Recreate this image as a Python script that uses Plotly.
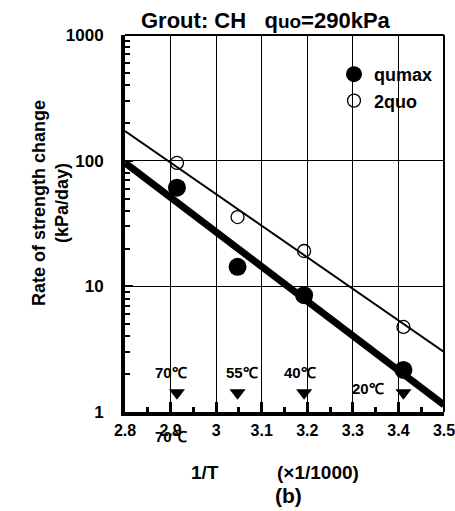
import math
import plotly.graph_objects as go

# Data
inv_T = [2.914, 3.047, 3.193, 3.411]          # 1/T (x1/1000) for 70,55,40,20 C
qumax = [61, 14.3, 8.5, 2.16]
two_quo = [96, 35.6, 19.1, 4.75]
fit_x = [2.8, 3.5]
fit_qumax = [96, 1.14]
fit_2quo = [172, 3.0]
temp_labels = ["70℃", "55℃", "40℃", "20℃"]
tri_level = [1.42, 1.42, 1.42, 1.42]
label_level = [2.08, 2.08, 2.08, 1.53]
label_dx = [-0.013, 0.009, -0.01, -0.077]
xticks = [2.8, 2.9, 3.0, 3.1, 3.2, 3.3, 3.4, 3.5]
xtick_text = ["2.8", "2.9", "3", "3.1", "3.2", "3.3", "3.4", "3.5"]
yticks = [1, 10, 100, 1000]
yminor = [m * d for d in (1, 10, 100) for m in range(2, 10)]

FONT = "Liberation Sans"
L, R, T, B = 125, 11, 35, 99
PW = 455 - L - R
PH = 511 - T - B


def px(xp):
    return (xp - L) / PW


def py(yp):
    return 1 - (yp - T) / PH


fig = go.Figure()
fig.add_trace(go.Scatter(x=fit_x, y=fit_2quo, mode="lines",
                         line=dict(color="black", width=2), showlegend=False))
fig.add_trace(go.Scatter(x=fit_x, y=fit_qumax, mode="lines",
                         line=dict(color="black", width=7), showlegend=False))
fig.add_trace(go.Scatter(x=inv_T, y=qumax, mode="markers", name="<b>qumax</b>",
                         marker=dict(symbol="circle", size=18, color="black")))
fig.add_trace(go.Scatter(x=inv_T, y=two_quo, mode="markers", name="<b>2quo</b>",
                         marker=dict(symbol="circle-open", size=13, color="black",
                                     line=dict(width=1.3))))
fig.add_trace(go.Scatter(x=inv_T, y=tri_level, mode="markers", showlegend=False,
                         marker=dict(symbol="triangle-down", size=14, color="black")))

for xv, lab, yl, dx in zip(inv_T, temp_labels, label_level, label_dx):
    fig.add_annotation(x=xv + dx, y=math.log10(yl), text="<b>" + lab + "</b>",
                       showarrow=False, xanchor="center", yanchor="middle",
                       font=dict(family=FONT, size=15, color="black"))

# extra label under the axis (as in the original)
fig.add_annotation(x=2.9, y=py(436), yref="paper", text="<b>70℃</b>", showarrow=False,
                   xanchor="center", yanchor="middle",
                   font=dict(family=FONT, size=15, color="black"))

fig.add_annotation(x=px(266), y=py(20), xref="paper", yref="paper",
                   xanchor="center", yanchor="middle",
                   text="<b>Grout: CH   q<span style='font-size:19px'>uo</span>=290kPa</b>",
                   showarrow=False, font=dict(family=FONT, size=22, color="black"))
fig.add_annotation(x=px(50), y=py(203), xref="paper", yref="paper", textangle=-90,
                   xanchor="center", yanchor="middle",
                   text="<b>Rate of strength change<br>(kPa/day)</b>", showarrow=False,
                   font=dict(family=FONT, size=18, color="black"))
fig.add_annotation(x=px(205), y=py(472), xref="paper", yref="paper",
                   xanchor="center", yanchor="middle",
                   text="<b>1/T</b>", showarrow=False,
                   font=dict(family=FONT, size=19, color="black"))
fig.add_annotation(x=px(318), y=py(472), xref="paper", yref="paper",
                   xanchor="center", yanchor="middle",
                   text="<b>(×1/1000)</b>", showarrow=False,
                   font=dict(family=FONT, size=19, color="black"))
fig.add_annotation(x=px(288), y=py(495), xref="paper", yref="paper",
                   xanchor="center", yanchor="middle",
                   text="<b>(b)</b>", showarrow=False,
                   font=dict(family=FONT, size=21, color="black"))

# thin top and right borders
fig.add_shape(type="line", xref="paper", yref="paper", x0=0, x1=1, y0=1, y1=1,
              line=dict(color="black", width=2))
fig.add_shape(type="line", xref="paper", yref="paper", x0=1, x1=1, y0=0, y1=1,
              line=dict(color="black", width=2))

fig.update_layout(
    width=455, height=511,
    margin=dict(l=L, r=R, t=T, b=B, autoexpand=False),
    paper_bgcolor="white", plot_bgcolor="white",
    font=dict(family=FONT, color="black"),
    legend=dict(x=px(334), y=py(56), xanchor="left", yanchor="top",
                bgcolor="rgba(0,0,0,0)", font=dict(family=FONT, size=18, color="black"),
                itemwidth=30, tracegroupgap=0),
    xaxis=dict(range=[2.8, 3.5], tickvals=xticks,
               ticktext=["<b>%s</b>" % t for t in xtick_text],
               tickfont=dict(family=FONT, size=16, color="black"),
               ticks="inside", ticklen=10, tickwidth=2.5, tickcolor="black",
               minor=dict(dtick=0.05, ticks="inside", ticklen=5, tickwidth=2.5,
                          tickcolor="black", showgrid=False),
               showgrid=True, gridcolor="black", gridwidth=1,
               showline=True, linecolor="black", linewidth=4, mirror=False,
               ticklabelstandoff=1, ticklabeloverflow="allow",
               zeroline=False, automargin=False),
    yaxis=dict(type="log", range=[0, 3], tickvals=yticks,
               ticktext=["<b>%d</b>" % v for v in yticks],
               tickfont=dict(family=FONT, size=17, color="black"),
               ticks="inside", ticklen=8, tickwidth=2, tickcolor="black",
               minor=dict(tickvals=yminor, ticks="inside", ticklen=5, tickwidth=1.5,
                          tickcolor="black", showgrid=False),
               showgrid=True, gridcolor="black", gridwidth=1,
               showline=True, linecolor="black", linewidth=4, mirror=False,
               ticklabelstandoff=14, ticklabeloverflow="allow",
               zeroline=False, automargin=False),
)

fig.write_html("out.html")
